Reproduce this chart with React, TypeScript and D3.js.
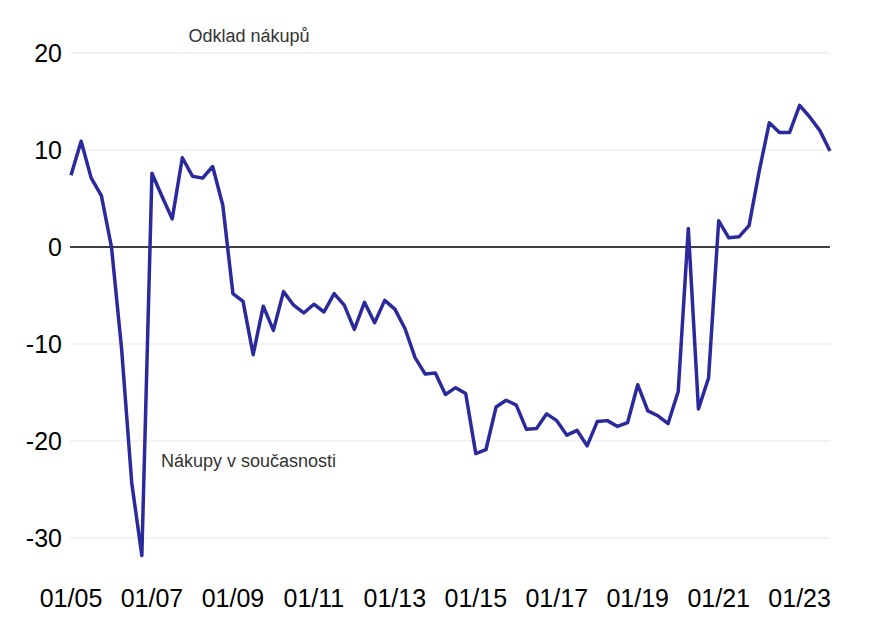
import React, { useEffect, useRef } from 'react';
import * as d3 from 'd3';

// quarterly values, Q1 2005 .. Q4 2023
const values: number[] = [
  7.4, 10.9, 7.1, 5.3,
  0.0, -10.5, -24.3, -31.8,
  7.6, 5.2, 2.9, 9.2,
  7.3, 7.1, 8.3, 4.3,
  -4.8, -5.6, -11.1, -6.1,
  -8.6, -4.6, -6.0, -6.8,
  -5.9, -6.7, -4.8, -6.0,
  -8.5, -5.7, -7.8, -5.5,
  -6.4, -8.4, -11.4, -13.1,
  -13.0, -15.2, -14.5, -15.1,
  -21.3, -20.9, -16.5, -15.8,
  -16.3, -18.8, -18.7, -17.2,
  -17.9, -19.4, -18.9, -20.5,
  -18.0, -17.9, -18.5, -18.1,
  -14.2, -16.9, -17.4, -18.2,
  -14.9, 1.9, -16.7, -13.5,
  2.7, 0.95, 1.05, 2.2,
  7.8, 12.8, 11.8, 11.8,
  14.6, 13.4, 12.0, 9.9,
];

const xTickLabels = ['01/05', '01/07', '01/09', '01/11', '01/13', '01/15', '01/17', '01/19', '01/21', '01/23'];
const yTicks = [20, 10, 0, -10, -20, -30];

const labelTop = 'Odklad nákupů';
const labelBottom = 'Nákupy v současnosti';

const W = 883;
const H = 637;

const App: React.FC = () => {
  const svgRef = useRef<SVGSVGElement>(null);

  useEffect(() => {
    const svg = d3.select(svgRef.current);
    svg.selectAll('*').remove();

    const font = '"Liberation Sans", Arial, sans-serif';

    const x = d3.scaleLinear()
      .domain([0, values.length - 1])
      .range([71, 830]);

    const y = d3.scaleLinear()
      .domain([-30, 20])
      .range([538, 53]);

    // grid
    svg.append('g')
      .selectAll('line')
      .data(yTicks.filter(d => d !== 0))
      .enter().append('line')
      .attr('x1', 70)
      .attr('x2', 830)
      .attr('y1', d => y(d))
      .attr('y2', d => y(d))
      .attr('stroke', '#e6e6e6')
      .attr('stroke-width', 1);

    // zero line
    svg.append('line')
      .attr('x1', 70)
      .attr('x2', 830)
      .attr('y1', y(0))
      .attr('y2', y(0))
      .attr('stroke', '#000')
      .attr('stroke-width', 1.5);

    // y labels
    svg.append('g')
      .selectAll('text')
      .data(yTicks)
      .enter().append('text')
      .attr('x', 62)
      .attr('y', d => y(d) + 9)
      .attr('text-anchor', 'end')
      .attr('font-family', font)
      .attr('font-size', 25)
      .attr('fill', '#000')
      .text(d => String(d));

    // x labels, every 8 quarters
    svg.append('g')
      .selectAll('text')
      .data(xTickLabels)
      .enter().append('text')
      .attr('x', (_d, i) => x(i * 8))
      .attr('y', 607)
      .attr('text-anchor', 'middle')
      .attr('font-family', font)
      .attr('font-size', 25)
      .attr('fill', '#000')
      .text(d => d);

    // series
    const line = d3.line<number>()
      .x((_d, i) => x(i))
      .y(d => y(d));

    svg.append('path')
      .datum(values)
      .attr('d', line)
      .attr('fill', 'none')
      .attr('stroke', '#2a2a9c')
      .attr('stroke-width', 3.5)
      .attr('stroke-linejoin', 'round');

    // annotations
    svg.append('text')
      .attr('x', 249)
      .attr('y', 42)
      .attr('text-anchor', 'middle')
      .attr('font-family', font)
      .attr('font-size', 18)
      .attr('fill', '#333')
      .text(labelTop);

    svg.append('text')
      .attr('x', 161)
      .attr('y', 467)
      .attr('font-family', font)
      .attr('font-size', 18)
      .attr('fill', '#333')
      .text(labelBottom);
  }, []);

  return (
    <svg
      ref={svgRef}
      width={W}
      height={H}
      style={{ position: 'absolute', left: 0, top: 0, background: '#fff' }}
    />
  );
};

export default App;
